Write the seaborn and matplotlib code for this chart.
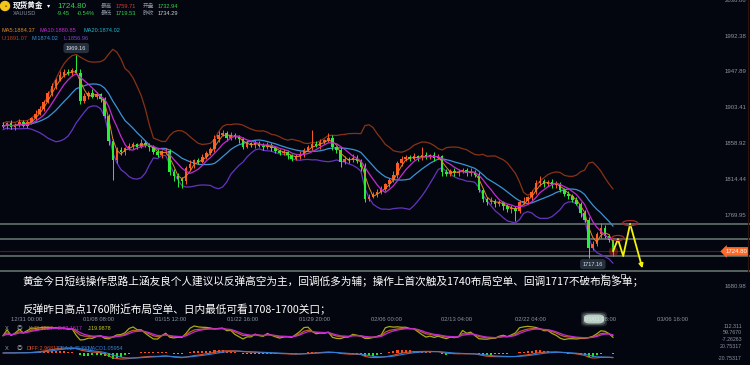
import numpy as np
import pandas as pd
import seaborn as sns
import matplotlib.pyplot as plt
from matplotlib.patches import Ellipse, FancyBboxPatch
from matplotlib import transforms

# ---- data (XAUUSD candles) ----
closes = [
    1880, 1884, 1879, 1882, 1886, 1881, 1885, 1890, 1896, 1902,
    1911, 1921, 1930, 1938, 1944, 1948, 1946, 1950, 1947, 1912,
    1918, 1922, 1917, 1920, 1914, 1893, 1862, 1838, 1851, 1848,
    1853, 1856, 1858, 1855, 1859, 1857, 1854, 1848, 1845, 1849,
    1850, 1824, 1818, 1815, 1812, 1828, 1833, 1838, 1836, 1842,
    1847, 1852, 1864, 1870, 1872, 1866, 1869, 1867, 1864, 1855,
    1859, 1857, 1860, 1856, 1854, 1857, 1853, 1850, 1847, 1848,
    1844, 1840, 1843, 1846, 1851, 1854, 1858, 1856, 1861, 1863,
    1866, 1854, 1851, 1836, 1840, 1838, 1841, 1837, 1830, 1790,
    1793, 1796, 1799, 1802, 1808, 1813, 1820, 1834, 1839, 1842,
    1840, 1843, 1841, 1845, 1842, 1844, 1841, 1843, 1824, 1821,
    1825, 1822, 1824, 1826, 1822, 1824, 1820, 1801, 1790, 1786,
    1788, 1784, 1786, 1781, 1777, 1779, 1775, 1786, 1788, 1792,
    1798, 1810, 1812, 1808, 1811, 1807, 1809, 1801, 1796, 1794,
    1789, 1784, 1772, 1764, 1729, 1734, 1746, 1754, 1744, 1739,
    1724.8]
first_open = 1882.0
wick_up = [
    3, 2, 4, 2, 3, 2, 3, 2, 4, 3,
    2, 3, 4, 2, 5, 3, 4, 3, 19.16, 4,
    3, 2, 4, 3, 2, 3, 2, 3, 4, 3,
    2, 4, 3, 2, 5, 3, 2, 3, 4, 2,
    3, 2, 3, 4, 2, 3, 5, 2, 3, 4,
    2, 3, 6, 4, 3, 2, 4, 3, 2, 3,
    4, 2, 3, 2, 3, 4, 2, 3, 2, 4,
    3, 2, 3, 4, 2, 3, 18, 4, 3, 2,
    6, 3, 2, 4, 3, 2, 5, 3, 2, 4,
    3, 2, 3, 4, 2, 3, 5, 3, 4, 2,
    3, 4, 2, 10, 3, 2, 4, 3, 2, 3,
    2, 4, 3, 2, 3, 4, 2, 3, 2, 3,
    4, 2, 3, 2, 3, 4, 2, 3, 4, 2,
    3, 4, 6, 3, 2, 4, 3, 2, 3, 4,
    2, 3, 2, 4, 3, 4, 3, 5.71, 3, 2,
    3]
wick_dn = [
    2, 3, 2, 4, 3, 2, 3, 2, 3, 2,
    3, 2, 3, 4, 2, 3, 2, 3, 2, 4,
    3, 4, 2, 3, 4, 2, 5, 25, 3, 4,
    3, 2, 4, 3, 2, 3, 4, 2, 3, 4,
    3, 4, 6, 10, 8, 3, 2, 4, 3, 2,
    3, 2, 4, 3, 2, 4, 3, 2, 5, 3,
    2, 3, 4, 2, 3, 2, 4, 3, 2, 3,
    4, 3, 2, 3, 4, 2, 3, 2, 4, 3,
    2, 3, 4, 6, 3, 4, 2, 3, 5, 4,
    3, 2, 4, 3, 2, 3, 2, 4, 3, 2,
    3, 2, 4, 3, 2, 3, 4, 2, 5, 3,
    2, 4, 3, 2, 3, 4, 3, 2, 4, 3,
    2, 4, 3, 5, 3, 4, 13, 3, 2, 4,
    3, 2, 4, 3, 2, 3, 4, 3, 2, 4,
    3, 2, 4, 3, 11.84, 3, 2, 4, 3, 2,
    5.27]

peak_idx, peak_price, peak_label = 18, 1969.16, "1969.16"
low_idx, low_price, low_label = 144, 1717.16, "1717.16"
last_price = 1724.80
levels = [1759.0, 1740.0, 1719.0, 1700.5]
proj_idx = [150, 151.2, 152.5, 154.2, 157.4]
proj_price = [1724.8, 1740.0, 1719.0, 1759.0, 1700.5]
ring_idx = [151.2, 154.2]
ring_price = [1741.5, 1760.0]
price_ticks = [2036.86, 1992.38, 1947.89, 1903.41, 1858.92, 1814.44, 1769.95, 1680.98]
date_labels = ["12/31 00:00", "01/08 08:00", "01/15 12:00", "01/22 16:00", "01/29 20:00",
               "02/06 00:00", "02/13 04:00", "02/22 04:00", "03/01 08:00", "03/06 16:00"]
date_idx = [5.9, 23.6, 41.3, 59.0, 76.5, 94.2, 111.6, 129.6, 147.0, 164.5]
kdj_ticks = ["112.311", "59.7670", "-7.26263"]
macd_ticks = ["20.75317", "-20.75317"]
note_1 = "黄金今日短线操作思路上涵友良个人建议以反弹高空为主，回调低多为辅；操作上首次触及1740布局空单、回调1717不破布局多单；"
note_2 = "反弹昨日高点1760附近布局空单、日内最低可看1708-1700关口；"

# ---- indicators ----
# the source chart packs ~1.75 candles in each of ours, so periods are scaled down
df = pd.DataFrame({"close": closes})
df["open"] = [first_open] + closes[:-1]
df["high"] = df[["open", "close"]].max(axis=1) + np.array(wick_up)
df["low"] = df[["open", "close"]].min(axis=1) - np.array(wick_dn)
idx = np.arange(len(df))
ma5 = df.close.rolling(3, min_periods=1).mean()
ma10 = df.close.rolling(6, min_periods=1).mean()
mid = df.close.rolling(12, min_periods=1).mean()
sd = df.close.rolling(12, min_periods=2).std(ddof=0).bfill()
upper, lower = mid + 2 * sd, mid - 2 * sd

llv = df.low.rolling(5, min_periods=1).min()
hhv = df.high.rolling(5, min_periods=1).max()
rsv = (df.close - llv) / (hhv - llv) * 100
k = rsv.ewm(alpha=0.5, adjust=False).mean()
d = k.ewm(alpha=0.5, adjust=False).mean()
j = 3 * k - 2 * d

dif = df.close.ewm(span=7, adjust=False).mean() - df.close.ewm(span=15, adjust=False).mean()
dea = dif.ewm(span=5, adjust=False).mean()
hist = 2 * (dif - dea)

# ---- figure ----
bg = "#04060f"
sns.set_theme(style="dark", rc={"axes.facecolor": bg, "figure.facecolor": bg})
plt.rcParams["font.family"] = ["Liberation Sans", "Noto Sans CJK SC", "DejaVu Sans"]
W, H = 750, 365
fig = plt.figure(figsize=(7.5, 3.65), dpi=100, facecolor=bg)


def fx(x):
    return x / W


def fy(y):
    return 1 - y / H


gray = "#8a939e"
fs = 4.1
step = 4.067
x0, x1 = -3 / step, 747 / step
ax = fig.add_axes([0, 0, 1, 1])
ax.set_xlim(x0, x1)
ax.set_ylim(1992.38 - 329 / 0.805, 1992.38 + 36 / 0.805)
ax.axis("off")

for lv in levels:
    ax.axhline(lv, color="#6c7b76", lw=1.1, zorder=1)
ax.plot([x0, 176.5], [last_price, last_price], color="#5c1717", lw=0.8, zorder=1)

for s, c in [(upper, "#873214"), (mid, "#3a93d6"), (lower, "#6434bd")]:
    sns.lineplot(x=idx, y=s, ax=ax, color=c, lw=0.9, zorder=2)

up = df.close >= df.open
cols = np.where(up, "#ff5a26", "#27f03a")
ax.vlines(idx, df.low, df.high, colors=cols, lw=0.7, zorder=3)
ax.bar(idx, np.maximum((df.close - df.open).abs(), 0.7), bottom=df[["open", "close"]].min(axis=1),
       width=0.62, color=cols, linewidth=0, zorder=3)

sns.lineplot(x=idx, y=ma5, ax=ax, color="#e08a1e", lw=0.7, zorder=4)
sns.lineplot(x=idx, y=ma10, ax=ax, color="#c42ad0", lw=0.9, zorder=4)

ax.scatter([idx[-1]], [last_price], s=45, color="#ff2a1a", alpha=0.35, lw=0, zorder=5)
sns.lineplot(x=proj_idx[:-1], y=proj_price[:-1], sort=False, ax=ax, color="#f2f20a", lw=1.3, zorder=6)
ax.annotate("", xy=(proj_idx[-1], proj_price[-1]), xytext=(proj_idx[-2], proj_price[-2]),
            arrowprops=dict(arrowstyle="-|>", color="#f2f20a", lw=1.3, mutation_scale=6), zorder=6)
for xi, pi, wd in zip(ring_idx, ring_price, [12, 15]):
    ax.add_patch(Ellipse((xi, pi), wd / step, 5 / 0.805, fill=False, ec="#a82828", lw=0.9, zorder=6))

ax.annotate(peak_label, xy=(peak_idx, peak_price), xytext=(0, 3), textcoords="offset points",
            ha="center", va="bottom", fontsize=fs, color="#d8dee6", zorder=7,
            bbox=dict(boxstyle="round,pad=0.45", fc="#26303d", ec="none"))
ax.annotate(low_label, xy=(low_idx, low_price), xytext=(3, -3), textcoords="offset points",
            ha="center", va="top", fontsize=fs, color="#d8dee6", zorder=7,
            bbox=dict(boxstyle="round,pad=0.45", fc="#26303d", ec="none"))
# small tool icons under the low label
for mk, xx in zip(["x", "^", "s"], [603, 613, 623]):
    fig.add_artist(plt.Line2D([fx(xx)], [fy(276)], marker=mk, ms=2.2, mew=0.6, color="#c8ccd2",
                              mfc="none", transform=fig.transFigure))

ytr = ax.get_yaxis_transform()
for p in price_ticks:
    ax.text(0.995, p, f"{p:.2f}", transform=ytr, ha="right", va="center", fontsize=4.3, color=gray)
ax.text(0.996, last_price, f"{last_price:.2f}", transform=ytr, ha="right", va="center",
        fontsize=4.3, color="white", zorder=8,
        bbox=dict(boxstyle="larrow,pad=0.3", fc="#ff6a2a", ec="none"))

dtr = transforms.blended_transform_factory(ax.transData, fig.transFigure)
for lab, xi in zip(date_labels, date_idx):
    ax.text(xi, fy(319.5), lab, transform=dtr, ha="center", va="center", fontsize=4.2, color=gray)
for a, sc in [(0.12, 4), (0.25, 2.5), (0.7, 1)]:
    fig.add_artist(FancyBboxPatch((fx(585 - sc), fy(322.5 + sc)), fx(18 + 2 * sc), (7 + 2 * sc) / H,
                                  boxstyle="round,pad=0,rounding_size=0.008", fc="#e8fff2",
                                  ec="none", alpha=a, transform=fig.transFigure))

note_font = ["Noto Sans CJK SC", "DejaVu Sans"]
fig.text(fx(22), fy(281), note_1, fontsize=7.7, color="white", va="center", family=note_font)
fig.text(fx(22), fy(309.5), note_2, fontsize=7.7, color="white", va="center", family=note_font)

# ---- header ----
fig.add_artist(Ellipse((fx(5), fy(6)), 9 / W, 9 / H, color="#f5c518", transform=fig.transFigure))
fig.text(fx(5), fy(6), "▲", fontsize=3, color="#8a6a00", ha="center", va="center")
fig.text(fx(13), fy(6), "现货黄金", fontsize=5.5, color="white", weight="bold", va="center")
fig.text(fx(47), fy(6), "▾", fontsize=4.5, color="white", va="center")
fig.text(fx(57), fy(6), "1724.80", fontsize=5.8, color="#35d14a", va="center")
fig.text(fx(13), fy(13.5), "XAUUSD", fontsize=fs, color=gray, va="center")
fig.text(fx(57), fy(13.5), "-9.45", fontsize=fs, color="#35d14a", va="center")
fig.text(fx(77), fy(13.5), "-0.54%", fontsize=fs, color="#35d14a", va="center")
for lab, val, c, yy in [("最高", "1759.71", "#e0382c", 6), ("最低", "1719.53", "#35d14a", 13.5)]:
    fig.text(fx(101), fy(yy), lab, fontsize=fs, color=gray, va="center")
    fig.text(fx(116), fy(yy), val, fontsize=fs, color=c, va="center")
for lab, val, c, yy in [("开盘", "1732.94", "#35d14a", 6), ("昨收", "1734.29", "#c8ccd2", 13.5)]:
    fig.text(fx(143), fy(yy), lab, fontsize=fs, color=gray, va="center")
    fig.text(fx(158), fy(yy), val, fontsize=fs, color=c, va="center")
for txt, c, xx in [("MA5:1884.37", "#e08a1e", 2), ("MA10:1880.85", "#c42ad0", 40), ("MA20:1874.02", "#1fb8c8", 83)]:
    fig.text(fx(xx), fy(31), txt, fontsize=fs, color=c, va="center")
for txt, c, xx in [("U:1891.07", "#b0401e", 2), ("M:1874.02", "#3a93d6", 32), ("L:1856.96", "#8040d0", 63)]:
    fig.text(fx(xx), fy(38), txt, fontsize=fs, color=c, va="center")
fig.add_artist(plt.Line2D([fx(748), fx(748)], [fy(0), fy(272)], color="#2a140c", lw=0.8))

# ---- KDJ panel ----
ak = fig.add_axes([0, fy(344), 1, 24 / H])
ak.set_facecolor("none")
ak.axis("off")
ak.set_xlim(x0, x1)
vmax = max(k.max(), d.max(), j.max())
vmin = min(k.min(), d.min(), j.min())
u = (vmax - vmin) / 14
ak.set_ylim(vmin - 4 * u, vmax + 6 * u)
for s, c in [(j, "#a9a91a"), (k, "#b8641e"), (d, "#c42ad0")]:
    sns.lineplot(x=idx, y=s, ax=ak, color=c, lw=0.9)
fig.text(fx(5), fy(329), "X", fontsize=fs, color="#9aa2ac", va="center")
fig.text(fx(17), fy(329), "◎", fontsize=fs, color="#9aa2ac", va="center")
for txt, c, xx in [("K:48.1037", "#d07a2a", 28), ("D:62.1617", "#c42ad0", 58), ("J:19.9878", "#c8c820", 88)]:
    fig.text(fx(xx), fy(329), txt, fontsize=3.9, color=c, va="center")
for txt, yy in zip(kdj_ticks, [326, 333, 339.5]):
    fig.text(fx(742), fy(yy), txt, fontsize=3.8, color=gray, ha="right", va="center")

# ---- MACD panel ----
am = fig.add_axes([0, fy(363), 1, 20 / H])
am.set_facecolor("none")
am.axis("off")
am.set_xlim(x0, x1)
m = max(dif.abs().max(), dea.abs().max(), hist.abs().max())
am.set_ylim(-m * 10 / 6, m * 10 / 6)
am.bar(idx, hist, width=0.5, color=np.where(hist >= 0, "#ff4a1a", "#1fe81f"), linewidth=0)
sns.lineplot(x=idx, y=dif, ax=am, color="#d8502a", lw=0.8)
sns.lineplot(x=idx, y=dea, ax=am, color="#2f7fd6", lw=0.8)
fig.text(fx(5), fy(348), "X", fontsize=fs, color="#9aa2ac", va="center")
fig.text(fx(17), fy(348), "◎", fontsize=fs, color="#9aa2ac", va="center")
for txt, c, xx in [("DIFF:2.96811", "#d8502a", 27), ("DEA:2.45490", "#2f7fd6", 57), ("MACD1.05954", "#2f7fd6", 87)]:
    fig.text(fx(xx), fy(348), txt, fontsize=3.9, color=c, va="center")
for txt, yy in zip(macd_ticks, [347, 359]):
    fig.text(fx(742), fy(yy), txt, fontsize=3.8, color=gray, ha="right", va="center")

fig.savefig("out.png", dpi=100, facecolor=bg)
